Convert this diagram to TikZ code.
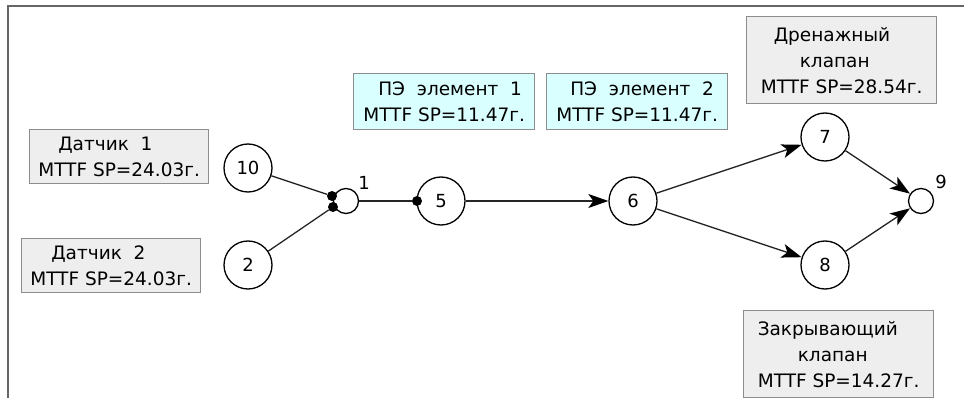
\documentclass[tikz,border=0pt]{standalone}
\usepackage{fontspec}
\setmainfont{DejaVu Sans}
\usetikzlibrary{arrows.meta}

\definecolor{boxgray}{HTML}{EEEEEE}
\definecolor{boxcyan}{HTML}{DAFFFF}
\definecolor{boxline}{HTML}{8C8C8C}
\definecolor{framegray}{HTML}{666666}

\begin{document}
\begin{tikzpicture}[x=1pt,y=-1pt,
    vert/.style={circle,draw,fill=white,line width=1.3pt,minimum size=48pt,inner sep=0pt,font=\fontsize{18}{20}\selectfont},
    endvert/.style={circle,draw,fill=white,line width=1.3pt,minimum size=25pt,inner sep=0pt},
    dot/.style={circle,fill,inner sep=0pt,minimum size=10pt},
    infobox/.style={draw=boxline,line width=1.3pt,fill=boxgray,align=left,anchor=north west,inner ysep=0pt,font=\fontsize{18.5}{26}\selectfont},
    cyanbox/.style={infobox,fill=boxcyan},
    link/.style={line width=1.3pt,draw=black!85},
    arr/.style={link,-{Stealth[length=20pt,width=14pt,inset=5pt,color=black]}},
    lbl/.style={font=\fontsize{18}{20}\selectfont,inner sep=0pt}]
            \useasboundingbox (0,0) rectangle (964,398);
            \draw[framegray,line width=2.6pt] (8,398) -- (8,6) -- (964,6);

            % boxes
            \node[infobox,minimum width=179pt,minimum height=54pt,inner xsep=2pt] (sens1) at (29,129) {\hspace*{20pt}Датчик\ \ 1\\MTTF SP=24.03г.};
            \node[infobox,minimum width=179pt,minimum height=54pt,inner xsep=2pt] (sens2) at (21,238) {\hspace*{21pt}Датчик\ \ 2\\MTTF SP=24.03г.};
            \node[cyanbox,minimum width=181pt,minimum height=56pt,inner xsep=3pt] (pe1) at (353,73) {\hspace*{15pt}ПЭ\ \ элемент\ \ 1\\MTTF SP=11.47г.};
            \node[cyanbox,minimum width=181pt,minimum height=56pt,inner xsep=2pt] (pe2) at (546,73) {\hspace*{14pt}ПЭ\ \ элемент\ \ 2\\MTTF SP=11.47г.};
            \node[infobox,minimum width=190pt,minimum height=87pt,inner xsep=9pt] (drain) at (746,16) {\hspace*{13pt}Дренажный\\\hspace*{39pt}клапан\\MTTF SP=28.54г.};
            \node[infobox,minimum width=190pt,minimum height=87pt,inner xsep=8pt] (close) at (743,310) {Закрывающий\\\hspace*{40pt}клапан\\MTTF SP=14.27г.};

            % vertices
            \node[vert] (n10) at (248,168) {10};
            \node[vert] (n2) at (248,265) {2};
            \node[endvert] (n1) at (346,201) {};
            \node[vert] (n5) at (441,201) {5};
            \node[vert] (n6) at (633,201) {6};
            \node[vert] (n7) at (825,137) {7};
            \node[vert] (n8) at (825,265) {8};
            \node[endvert] (n9) at (921,201) {};

            \node[lbl] (l1) at (364,183) {1};
            \node[lbl] (l9) at (941,182) {9};

            \node[dot] (d1) at (332,196) {};
            \node[dot] (d2) at (333,207) {};
            \node[dot] (d5) at (417,201) {};

            % connectors
            \draw[link] (n10) -- (d1);
            \draw[link] (n2) -- (d2);
            \draw[link] (n1) -- (d5);
            \draw[arr] (n5) -- (n6);
            \draw[arr] (n6) -- (n7);
            \draw[arr] (n6) -- (n8);
            \draw[arr] (n7) -- (n9);
            \draw[arr] (n8) -- (n9);

        \end{tikzpicture}
\end{document}
